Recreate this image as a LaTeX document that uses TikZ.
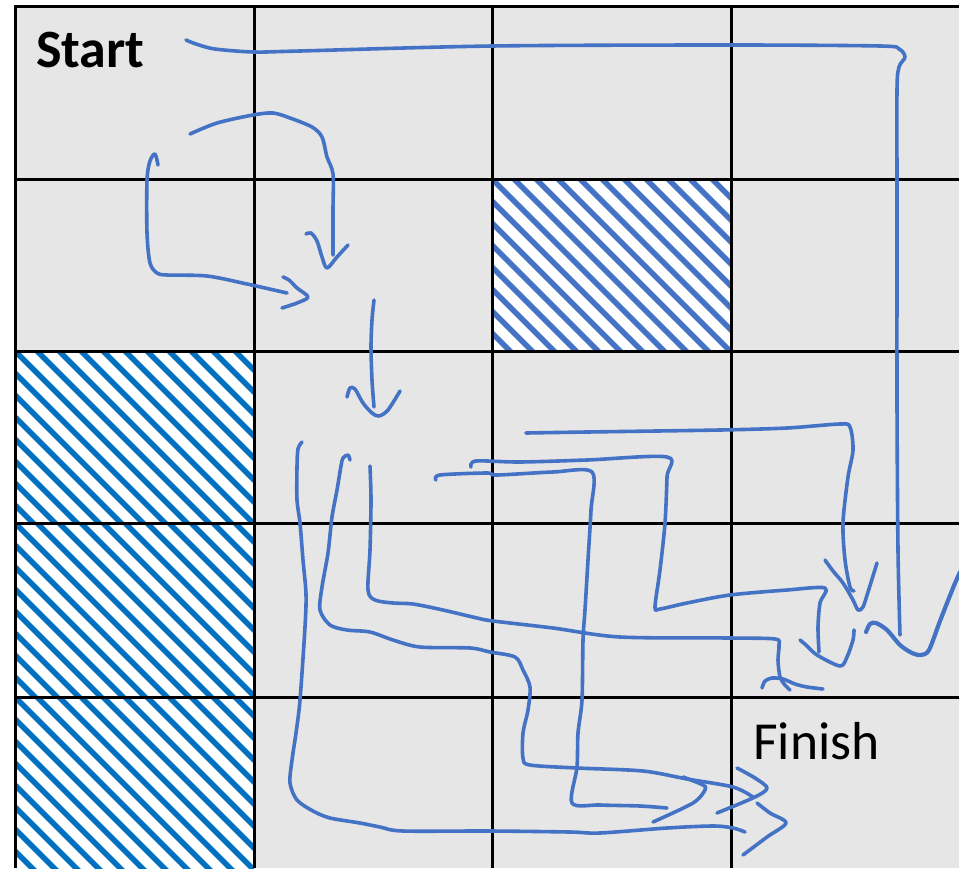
\documentclass[tikz,border=0pt]{standalone}
\usepackage{fontspec}
\newfontfamily\carl{Carlito}
\definecolor{cellgray}{HTML}{E6E6E6}
\definecolor{penblue}{HTML}{4472C4}
\definecolor{hatchA}{HTML}{4472C4}
\definecolor{hatchB}{HTML}{0070C0}
\newcommand\hatchcell[5]{%
  \fill[white] (#1,#2) rectangle (#3,#4);
  \begin{scope}
    \clip (#1,#2) rectangle (#3,#4);
    \foreach \c in {-198,-176,...,242} \draw[#5, line width=5.5pt] ({#1+\c},#2) -- ++(200,200);
  \end{scope}}
\tikzset{
  gridline/.style={draw=black, line width=3pt},
  pen/.style={draw=penblue, line width=3.6pt, line cap=round, line join=round},
  label/.style={inner sep=0pt, anchor=base west, text=black}
}
\begin{document}
\begin{tikzpicture}[x=1pt,y=-1pt]
\useasboundingbox (0,0) rectangle (959,868);
\fill[cellgray] (15,6) rectangle (959,868);
\hatchcell{492}{179}{731}{351}{hatchA}
\hatchcell{15}{351}{254}{523}{hatchB}
\hatchcell{15}{523}{254}{697}{hatchB}
\hatchcell{15}{697}{254}{868}{hatchB}
% grid
\draw[gridline] (13.5,6) -- (959,6);
\foreach \y in {179,351,523,697} \draw[gridline] (15,\y) -- (959,\y);
\foreach \x in {15,254,492,731} \draw[gridline] (\x,6) -- (\x,868);
% labels
\node[label] (start) at (36,67) {\carl\fontsize{54}{60}\selectfont\bfseries Start};
\node[label] (finish) at (753,759) {\carl\fontsize{53.5}{60}\selectfont Finish};
% strokes
\draw[pen] plot[smooth, tension=0.5] coordinates {(186,40) (196,44) (215,49) (254,52) (300,51) (492,46) (731,45) (880,46) (899,49) (905,57) (899,67) (897,90) (897,200) (897,400) (898,550) (900,635)};
\draw[pen, line width=4.2pt] plot[smooth, tension=0.5] coordinates {(866,632) (870,624) (876,623) (887,630) (900,645) (912,653) (921,655) (929,650) (940,621) (953,588) (960,572)};
% top-left arc
\draw[pen] plot[smooth, tension=0.5] coordinates {(190,134) (217,123) (253,115) (273,113) (290,118) (312,127) (322,137) (327,157) (333,174) (333,210) (333,255)};
\draw[pen] plot[smooth, tension=0.5] coordinates {(306,234) (311,233) (317,241) (322,257) (327,268) (337,257) (348,245)};
% left loop
\draw[pen] plot[smooth, tension=0.5] coordinates {(158,165) (155,154) (150,161) (147,180) (147,233) (150,263) (157,273) (167,275) (207,276) (247,284) (287,293)};
\draw[pen] plot[smooth, tension=0.5] coordinates {(283,277) (289,280) (297,288) (308,297) (297,303) (282,308)};
% middle down arrow
\draw[pen] plot[smooth, tension=0.5] coordinates {(374,300) (372,320) (371,347) (372,380) (374,407)};
\draw[pen] plot[smooth, tension=0.5] coordinates {(347,397) (350,388) (355,389) (363,403) (372,413) (379,416) (388,410) (400,391)};
% outer long path to finish
\draw[pen] plot[smooth, tension=0.5] coordinates {(302,442) (298,449) (297,467) (297,500) (300,523) (303,560) (306,594) (305,627) (300,700) (296,733) (292,760) (290,783) (297,800) (313,811) (330,818) (360,823) (380,827) (403,831) (490,831) (570,832) (600,833) (667,828) (713,826) (733,828) (745,832)};
\draw[pen] plot[smooth, tension=0.5] coordinates {(757,803) (770,813) (786,823) (767,837) (743,855)};
% path B
\draw[pen] plot[smooth, tension=0.5] coordinates {(350,460) (348,455) (343,458) (341,466) (337,490) (332,517) (328,553) (322,587) (320,610) (330,625) (347,630) (370,632) (393,640) (420,647) (470,648) (490,652) (515,657) (523,670) (530,687) (528,710) (523,733) (523,758) (530,765) (577,768) (643,771) (687,779) (733,787) (753,797)};
\draw[pen] plot[smooth, tension=0.5] coordinates {(737,768) (755,778) (767,788) (755,797) (717,813)};
% path C
\draw[pen] plot[smooth, tension=0.5] coordinates {(370,466) (371,500) (370,550) (368,590) (375,600) (393,603) (413,604) (443,610) (477,618) (493,621) (553,628) (620,637) (730,638) (775,639) (779,645) (778,660) (780,677) (785,685) (790,690)};
\draw[pen] plot[smooth, tension=0.5] coordinates {(762,688) (765,681) (772,678) (783,679) (795,684) (807,687) (823,689)};
% path D
\draw[pen] plot[smooth, tension=0.5] coordinates {(526,433) (587,432) (720,430) (787,428) (840,424) (850,427) (853,450) (848,477) (843,523) (845,560) (850,587) (854,591)};
\draw[pen] plot[smooth, tension=0.5] coordinates {(825,560) (833,571) (843,583) (853,600) (858,610) (863,607) (868,592) (877,563)};
% path E
\draw[pen] plot[smooth, tension=0.5] coordinates {(471,467) (476,461) (520,462) (587,460) (667,457) (667,477) (665,523) (660,570) (655,607) (660,609) (687,603) (730,595) (787,590) (825,588) (820,603) (818,627) (819,652)};
\draw[pen] plot[smooth, tension=0.5] coordinates {(800,640) (806,645) (817,655) (840,666) (847,657) (853,640) (854,630)};
% path F
\draw[pen] plot[smooth, tension=0.5] coordinates {(436,480) (440,475) (487,473) (497,475) (553,472) (592,472) (591,510) (588,560) (585,610) (583,640) (582,700) (578,733) (577,767) (572,803) (600,805) (640,806) (667,808)};
\draw[pen] plot[smooth, tension=0.5] coordinates {(683,777) (703,785) (705,790) (693,803) (653,822)};
\end{tikzpicture}
\end{document}
